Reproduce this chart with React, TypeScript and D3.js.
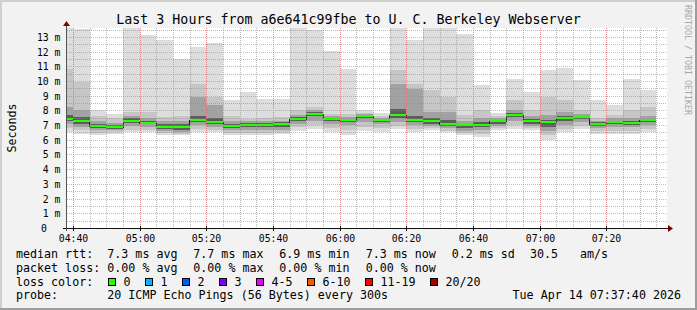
import React from "react";
import * as d3 from "d3";

// ---- data (5-minute bins, values in milliseconds) ----
const binStart = ["04:35","04:40","04:45","04:50","04:55","05:00","05:05","05:10","05:15","05:20","05:25","05:30","05:35","05:40","05:45","05:50","05:55","06:00","06:05","06:10","06:15","06:20","06:25","06:30","06:35","06:40","06:45","06:50","06:55","07:00","07:05","07:10","07:15","07:20","07:25","07:30"];
const maxMs   = [14.0,13.56,8.0,7.73,14.0,13.1,12.81,11.52,12.31,12.59,8.73,9.25,8.8,8.8,14.0,13.5,12.04,10.84,8.0,7.85,14.0,12.77,14.0,14.0,13.22,9.75,7.85,10.16,9.27,10.77,10.9,10.05,8.73,8.35,10.16,9.41];
const hi2Ms   = [10.84,9.93,7.6,7.5,7.9,7.9,7.55,7.6,9.82,8.91,7.6,7.44,7.5,7.55,8.0,8.23,7.78,7.78,7.85,7.6,10.73,9.82,9.37,8.91,7.67,8.0,7.6,8.7,8.05,8.91,8.69,8.0,7.5,7.7,8.0,8.2];
const hi3Ms   = [8.23,8.0,7.25,7.15,7.6,7.5,7.25,7.3,8.91,8.35,7.25,7.25,7.25,7.3,7.7,8.0,7.6,7.55,7.75,7.45,9.82,9.48,7.89,7.9,7.3,7.5,7.45,8.0,7.6,7.7,7.9,7.75,7.3,7.45,7.5,7.6];
const hi4Ms   = [7.7,7.55,7.05,7.0,7.45,7.3,7.05,7.05,7.65,7.45,7.05,7.12,7.12,7.2,7.55,7.9,7.5,7.42,7.68,7.4,8.1,7.65,7.45,7.35,7.1,7.2,7.35,7.85,7.4,7.35,7.6,7.65,7.2,7.3,7.3,7.42];
const medianMs= [7.44,7.26,6.94,6.87,7.3,7.16,6.87,6.87,7.33,7.21,6.94,7.03,7.03,7.1,7.44,7.78,7.44,7.33,7.6,7.33,7.71,7.37,7.26,7.1,6.98,7.03,7.26,7.71,7.26,7.21,7.48,7.55,7.1,7.21,7.14,7.33];
const lo4Ms   = [7.25,7.1,6.8,6.75,7.15,7.05,6.75,6.7,7.2,7.05,6.8,6.9,6.9,6.9,7.3,7.6,7.3,7.2,7.45,7.2,7.5,7.2,7.1,6.95,6.8,6.85,7.1,7.55,7.1,6.9,7.3,7.4,6.95,7.05,7.0,7.2];
const lo3Ms   = [7.05,6.9,6.65,6.65,6.95,6.9,6.6,6.55,7.0,6.9,6.65,6.7,6.7,6.7,7.1,7.3,7.1,7.0,7.2,7.05,7.2,7.0,6.95,6.8,6.6,6.65,6.95,7.3,6.95,6.6,7.0,7.2,6.8,6.85,6.85,7.0];
const lo2Ms   = [6.8,6.65,6.45,6.5,6.7,6.7,6.45,6.4,6.75,6.7,6.45,6.45,6.45,6.5,6.85,7.0,6.8,6.65,6.9,6.8,6.95,6.75,6.8,6.6,6.45,6.4,6.8,7.0,6.8,6.3,6.75,6.95,6.6,6.6,6.6,6.75];
const minMs   = [6.53,6.42,6.31,6.42,6.53,6.53,6.31,6.31,6.53,6.53,6.31,6.31,6.31,6.42,6.6,6.76,6.53,6.31,6.63,6.53,6.76,6.53,6.65,6.53,6.31,6.19,6.65,6.76,6.65,6.0,6.53,6.76,6.42,6.42,6.42,6.53];

const lossLabels = ["0","1","2","3","4-5","6-10","11-19","20/20"];
const lossColors = ["#26ff00","#00b8ff","#0059ff","#7e00ff","#ee00ff","#ff5500","#ff0000","#a10000"];
const rttStats = ["7.3 ms avg","7.7 ms max","6.9 ms min","7.3 ms now","0.2 ms sd"];
const lossStats = ["0.00 % avg","0.00 % max","0.00 % min","0.00 % now"];
const titleText = "Last 3 Hours from a6e641c99fbe to U. C. Berkeley Webserver";
const probeText = "20 ICMP Echo Pings (56 Bytes) every 300s";
const dateText = "Tue Apr 14 07:37:40 2026";

const W = 697, H = 310;
const PL = 67, PR = 667, PT = 28, PB = 228;
const MONO = "'DejaVu Sans Mono', monospace";

const parseT = (s: string) => {
  const [h, m] = s.split(":").map(Number);
  return new Date(2026, 3, 14, h, m, 0);
};

export default function App() {
  const t0 = new Date(2026, 3, 14, 4, 38, 10);
  const t1 = new Date(2026, 3, 14, 7, 38, 10);
  const x = d3.scaleTime().domain([t0, t1]).range([PL, PR]);
  const y = d3.scaleLinear().domain([0, 13.605]).range([PB, PT]);

  const minorX = d3.timeMinute.every(5)!.range(t0, t1);
  const majorX = d3.timeMinute.every(20)!.range(t0, t1);
  const fmt = d3.timeFormat("%H:%M");
  const minorY = d3.range(1, 28).map((i) => i * 0.5).filter((v) => v % 1 !== 0);
  const majorY = d3.range(1, 14);

  const bins = binStart.map((s, i) => {
    const a = parseT(s);
    const b = d3.timeMinute.offset(a, 5);
    return { a, b, i };
  });

  const layers: [number[], number[], string][] = [
    [minMs, maxMs, "#dddddd"],
    [lo2Ms, hi2Ms, "#c6c6c6"],
    [lo3Ms, hi3Ms, "#a2a2a2"],
    [lo4Ms, hi4Ms, "#5c5c5c"],
  ];

  const medPts: [Date, number][] = bins.map((b) => [b.a, medianMs[b.i]]);
  medPts.push([bins[bins.length - 1].b, medianMs[medianMs.length - 1]]);
  const medLine = d3
    .line<[Date, number]>()
    .x((d) => x(d[0]))
    .y((d) => Math.round(y(d[1])) + 0.5)
    .curve(d3.curveStepAfter)(medPts);

  const colX = [107.3, 193.3, 279.3, 365.7, 451.7];
  const boxX = [108.5, 145.5, 182.5, 219.5, 256.5, 307.5, 365.5, 430.5];
  const rows = [258, 271.8, 285.6, 299.4];

  return (
    <svg
      width={W}
      height={H}
      style={{ position: "absolute", left: 0, top: 0, display: "block" }}
      fontFamily={MONO}
    >
      <defs>
        <clipPath id="plotclip">
          <rect x={PL} y={PT} width={PR - PL} height={PB - PT + 1} />
        </clipPath>
      </defs>
      {/* background & frame */}
      <rect x={0} y={0} width={W} height={H} fill="#f2f2f2" />
      <rect x={0} y={0} width={W} height={2} fill="#cfcfcf" />
      <rect x={0} y={0} width={2} height={H} fill="#cfcfcf" />
      <rect x={W - 2} y={0} width={2} height={H} fill="#9e9e9e" />
      <rect x={0} y={H - 2} width={W} height={2} fill="#9e9e9e" />
      <rect x={PL} y={PT} width={PR - PL} height={PB - PT} fill="#ffffff" />

      {/* smoke */}
      <g clipPath="url(#plotclip)" shapeRendering="crispEdges">
        {layers.map(([lo, hi, col], li) => (
          <g key={li} fill={col}>
            {bins.map((b) => {
              const ya = y(Math.min(hi[b.i], 14));
              const yb = y(lo[b.i]);
              return (
                <rect
                  key={b.i}
                  x={x(b.a)}
                  y={ya}
                  width={x(b.b) - x(b.a)}
                  height={Math.max(0, yb - ya)}
                />
              );
            })}
          </g>
        ))}
        <path d={medLine || ""} fill="none" stroke="#202020" strokeWidth={1} />
        <g fill={lossColors[0]}>
          {bins.map((b) => (
            <rect
              key={b.i}
              x={x(b.a)}
              y={Math.round(y(medianMs[b.i])) - 1}
              width={x(b.b) - x(b.a)}
              height={2}
            />
          ))}
        </g>
      </g>

      {/* grid */}
      <g strokeDasharray="1 1" strokeWidth={1}>
        {minorX.map((t, i) => (
          <line key={"mx" + i} x1={Math.round(x(t)) + 0.5} x2={Math.round(x(t)) + 0.5} y1={PT} y2={PB}
            stroke="rgba(140,140,140,0.6)" />
        ))}
        {minorY.map((v, i) => (
          <line key={"my" + i} x1={PL} x2={PR} y1={Math.round(y(v)) + 0.5} y2={Math.round(y(v)) + 0.5}
            stroke="rgba(140,140,140,0.6)" />
        ))}
        {majorX.map((t, i) => (
          <line key={"Mx" + i} x1={Math.round(x(t)) + 0.5} x2={Math.round(x(t)) + 0.5} y1={PT} y2={PB}
            stroke="rgba(240,110,110,0.6)" />
        ))}
        {majorY.map((v, i) => (
          <line key={"My" + i} x1={PL} x2={PR} y1={Math.round(y(v)) + 0.5} y2={Math.round(y(v)) + 0.5}
            stroke="rgba(240,110,110,0.6)" />
        ))}
      </g>

      {/* axes */}
      <line x1={63} x2={669} y1={PB + 0.5} y2={PB + 0.5} stroke="#111" />
      <line x1={PL - 0.5} x2={PL - 0.5} y1={231} y2={24} stroke="#555" />
      <polygon points={`668,225 668,232 673,228.5`} fill="#800000" />
      <polygon points={`63,26 70,26 66.5,21`} fill="#800000" />
      {majorX.map((t, i) => (
        <line key={"tk" + i} x1={Math.round(x(t)) + 0.5} x2={Math.round(x(t)) + 0.5} y1={PB - 2} y2={PB + 3} stroke="#111" />
      ))}

      {/* tick labels */}
      <g fontSize={9.8} fill="#000">
        {majorX.map((t, i) => (
          <text key={"xl" + i} x={Math.round(x(t)) + 0.5} y={241.5} textAnchor="middle">{fmt(t)}</text>
        ))}
        {majorY.map((v) => (
          <text key={"yl" + v} x={60.5} y={Math.round(y(v)) + 4} textAnchor="end">{`${v} m`}</text>
        ))}
        <text x={47} y={Math.round(y(0)) + 4} textAnchor="end">0</text>
      </g>

      {/* title & labels */}
      <text x={W / 2} y={23.5} textAnchor="middle" fontSize={13.3} fill="#000">{titleText}</text>
      <text transform="translate(15.5,128) rotate(-90)" textAnchor="middle" fontSize={11.67} fill="#000">Seconds</text>
      <text transform="translate(684.5,5) rotate(90)" fontSize={8.3} fill="#a8a8a8">RRDTOOL / TOBI OETIKER</text>

      {/* legend */}
      <g fontSize={11.67} fill="#000" style={{ whiteSpace: "pre" }}>
        <text x={16} y={rows[0]}>median rtt:</text>
        {rttStats.map((s, i) => (
          <text key={"r" + i} x={colX[i]} y={rows[0]}>{s}</text>
        ))}
        <text x={530} y={rows[0]}>30.5</text>
        <text x={580} y={rows[0]}>am/s</text>

        <text x={16} y={rows[1]}>packet loss:</text>
        {lossStats.map((s, i) => (
          <text key={"l" + i} x={colX[i]} y={rows[1]}>{s}</text>
        ))}

        <text x={16} y={rows[2]}>loss color:</text>
        {lossLabels.map((s, i) => (
          <g key={"lc" + i}>
            <rect x={boxX[i]} y={278.5} width={7} height={7} fill={lossColors[i]} stroke="#000" strokeWidth={1} />
            <text x={boxX[i] + 15} y={rows[2]}>{s}</text>
          </g>
        ))}

        <text x={16} y={rows[3]}>probe:</text>
        <text x={colX[0]} y={rows[3]}>{probeText}</text>
        <text x={681} y={rows[3]} textAnchor="end">{dateText}</text>
      </g>
    </svg>
  );
}
